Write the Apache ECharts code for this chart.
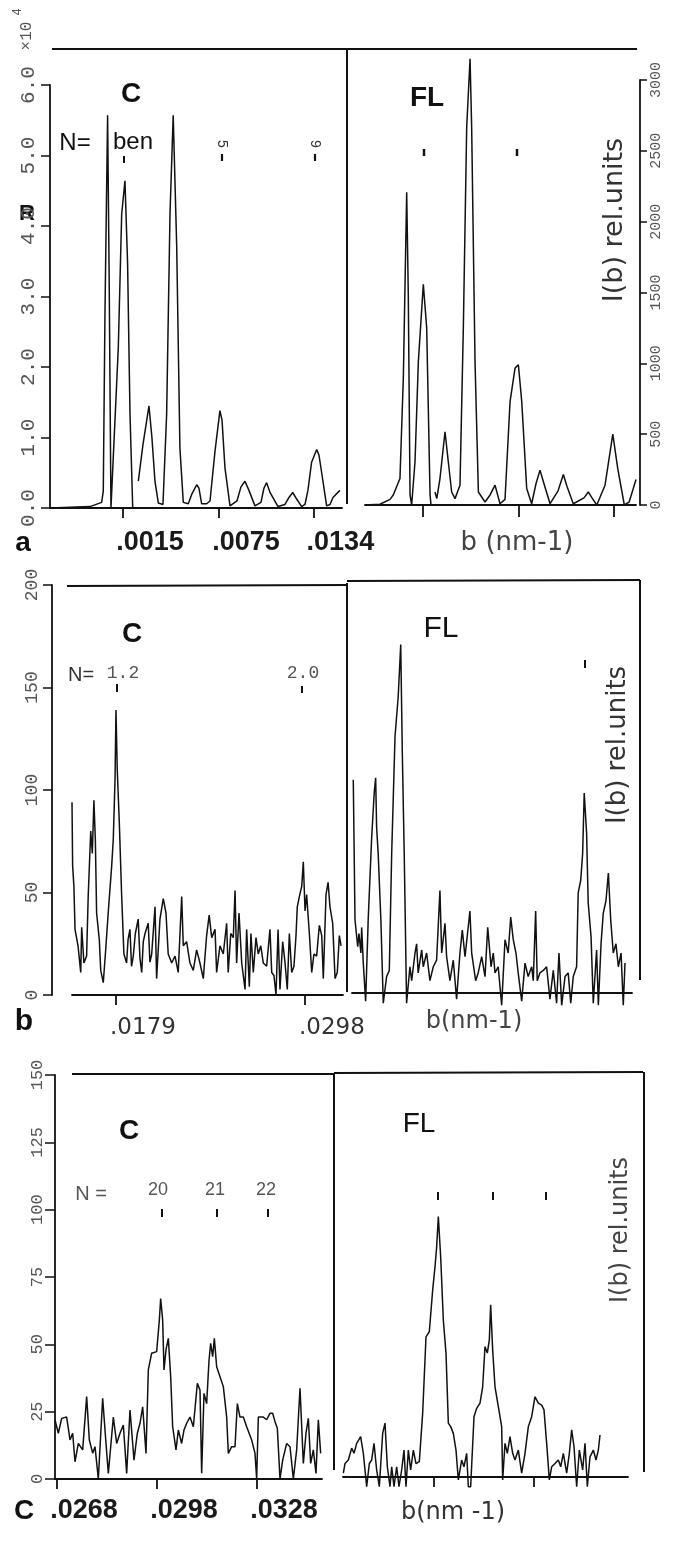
<!DOCTYPE html>
<html><head><meta charset="utf-8">
<script src="https://cdn.jsdelivr.net/npm/echarts@6/dist/echarts.min.js"></script>
<style>html,body{margin:0;padding:0;background:#fff}#c{width:673px;height:1560px}</style>
</head><body><div id="c"></div><script>
// b in units of 1e-4 nm^-1 ; I(b) in panel units
const aTicks = [15, 75, 134];
const aTickLabels = ['.0015', '.0075', '.0134'];
const bTicks = [179, 298];
const bTickLabels = ['.0179', '.0298'];
const cTicks = [268, 298, 328];
const cTickLabels = ['.0268', '.0298', '.0328'];

// Panel a, C (x10^4)
const aC = [[-30.6,0],[-5.6,0.02],[1.7,0.08],[2.7,0.24],[3.75,2.75],[5.4,5.57],[6.4,3.2],[7.5,0],[8.6,0],[12.1,2.28],[14.2,4.17],[16.25,4.64],[17.9,3.46],[19.4,1.33],[21.1,0],[22.9,null],[24.6,0.38],[27.5,0.9],[31.25,1.45],[33.1,1.0],[35,0.38],[37.1,0.07],[40,0.05],[42.3,1.33],[44.4,4.17],[46.4,5.57],[48.6,3.7],[50.6,0.85],[52.7,0.08],[55.8,0.06],[58.1,0.2],[61.1,0.33],[62.5,0.28],[64.2,0.06],[67.3,0.06],[69.4,0.1],[72.5,0.8],[75.6,1.38],[76.9,1.25],[78.75,0.57],[81.9,0.03],[86.25,0.1],[88.75,0.3],[91.25,0.38],[93.75,0.25],[97.5,0.03],[101.25,0.08],[103.1,0.28],[104.8,0.36],[106.9,0.22],[111.9,0.02],[116.25,0.05],[118.75,0.15],[121.1,0.22],[123.75,0.12],[126.7,0.02],[128.75,0.05],[130.6,0.25],[132.9,0.65],[136.1,0.83],[137.5,0.75],[139.2,0.5],[142.3,0.03],[144.4,0.05],[146.25,0.15],[150.6,0.25]];
// Panel a, FL
const aFL = [[-21.25,0],[-11.9,5],[-5.6,40],[-3.6,71],[0.6,187],[2.7,895],[4.8,2207],[5.8,1489],[6.9,71],[7.9,0],[10,305],[12.1,1014],[15.2,1558],[17.3,1250],[19.4,71],[20,0],[21,null],[22.5,92],[23.6,45],[25.6,187],[28.75,517],[30.8,305],[32.9,92],[35,45],[38.1,140],[40.2,1250],[42.3,2668],[44.4,3150],[45.4,2668],[47.5,1014],[49.6,92],[53.75,21],[56.9,71],[60,140],[63.1,9],[66.25,40],[69.4,730],[72.5,966],[74.6,990],[76.7,730],[79.8,116],[82.9,9],[85.6,150],[88.1,246],[90.6,150],[94.4,9],[99.4,100],[102.7,215],[105,130],[108.9,9],[115.6,50],[118.3,92],[120.6,50],[123.6,0],[128.75,140],[133.6,501],[136.7,257],[140.8,0],[143.75,20],[146.4,116],[148.1,180]];
// Panel b, C
const bC = [[151.3,94],[151.7,63],[152.5,53],[153.2,32],[155.1,24],[156.8,11],[157.4,33],[158.8,15.6],[160.5,19],[161.5,48],[163.1,80],[164.1,69],[165.1,95],[166,76],[166.8,40],[168.5,27],[169.4,12],[171,6],[172.7,24],[174.1,40],[176.3,63],[177.3,76],[178.4,105],[179,139],[179.8,110],[181.1,84],[182.6,48],[184,20],[185.7,15.6],[186.6,27],[187.8,32],[188.8,14],[189.9,19],[191.2,30],[193,37],[194.1,18],[195.2,11],[196.2,26],[197.3,30],[199.3,35],[200.4,16],[201.5,20],[203.6,43],[204.6,8],[206.7,37],[208.8,47],[210.5,40],[211.9,20],[214.1,15.6],[216.2,19],[218.2,11],[220.4,48],[221.4,24],[223.5,26],[225.6,15.6],[227.7,12],[229.8,22],[231.9,15.6],[234,8],[236.1,29],[237.7,39],[239.3,28],[241.4,32],[242.4,11],[244.5,24],[246.6,20],[248.7,35],[249.7,11],[251.3,30],[252.9,28],[254,51],[255,15.6],[256.5,40],[258.2,15.6],[260.3,2.7],[261.3,32],[263,4],[264,30],[265.5,11],[267.2,28],[268.6,20],[270.2,24],[271.8,15.6],[273.9,14],[276,32],[277.1,11],[278.5,9.5],[279.8,0],[281.1,32],[282.3,2.7],[284,26],[285.5,15.6],[286.9,2.7],[288.2,30],[289.7,11],[291.1,14],[292.4,29],[293.2,43],[294.5,48],[296,53],[297,65],[298.1,41],[299.1,49],[300.8,30],[302.3,11],[303.7,20],[305.4,19],[307.1,34],[308.6,29],[309.6,8],[311.3,49],[312.6,55],[313.8,43],[315.5,35],[317,8],[318.4,11],[319.7,29],[320.8,24]];
// Panel b, FL
const bFL = [[152.1,104],[153.2,35.6],[154.9,22.6],[155.7,29],[156.9,19.5],[157.4,32],[158.4,14.6],[159.9,-4],[161.5,35.6],[163.7,76],[165.3,97.6],[166.2,105],[166.8,81],[167.8,68],[169.5,35.6],[171,-5],[173.1,8],[174.8,11],[176.3,68],[178.4,125],[180.4,144.5],[182,170],[183,117],[184.2,68],[185.7,-5],[187.8,12.8],[188.9,6],[191,19.5],[192,24],[193,9.8],[195.2,21],[196.2,12.8],[198.3,19.5],[200.4,6],[202.5,12.8],[204.6,16],[206.7,50],[207.8,19.5],[209.9,34],[210.9,17.7],[213,6],[215.1,16],[217.2,-3],[219.3,19.5],[220.8,30.7],[222.5,17.7],[225.6,40],[226.7,19.5],[229.2,6],[230.8,9.8],[233,17.7],[235.1,8],[236.8,32],[238.9,12.8],[240.3,19.5],[241.4,9.8],[243.4,12.8],[245.6,-6],[247.7,26],[249.7,19.5],[251.3,37],[252.9,26],[254.6,19.5],[256,9.8],[258.2,-4],[260.3,14.6],[262.3,8],[264.5,12.8],[265.5,6],[267,40],[268,6],[269.7,9.8],[271.8,11],[273.9,12.8],[276,-3],[278.1,11],[280.2,-5],[281.7,19.5],[283.4,-6],[285.5,8],[287.5,9.8],[289.1,-5],[290.7,8],[292.8,12.8],[293.8,48.8],[295.4,55],[296.6,68],[297.6,97.6],[299.1,78],[300.1,44],[301.9,27.5],[303.3,-5],[305.4,21],[306.5,-6],[308.2,24],[309.6,39],[311.3,45],[312.8,58.5],[314.3,35.6],[315.9,19.5],[317.6,24],[319.1,12.8],[320.8,19.5],[322.2,-6],[323.3,14.6]];
// Panel c, C
const cC = [[267.4,21.9],[268.4,17],[269.4,22.5],[270.9,23],[271.9,14.5],[272.7,17],[273.4,6.4],[274.4,13.2],[275.7,10.8],[276.9,30.6],[277.7,14.5],[278.7,9.6],[279.4,12],[280.4,0],[281.7,30],[282.7,13.2],[283.4,2.1],[284.9,23],[285.9,13.2],[286.9,17],[287.9,20],[288.9,2.1],[289.9,25.6],[291.1,7],[292.1,17],[292.9,20.7],[293.7,26.8],[294.7,9.5],[295.4,40.5],[296.4,46.7],[297.9,47.3],[298.7,59],[299.1,67],[299.7,59],[300.1,40.5],[300.7,48],[301.4,52.2],[302.1,38],[302.7,19.4],[303.7,10.8],[304.4,18.2],[305.4,13.2],[306.1,18.2],[306.9,20.7],[307.9,23],[308.9,19.4],[310.1,35.5],[310.9,33],[311.4,2.1],[312.1,31.8],[312.9,28],[313.6,44],[314.1,50.4],[314.7,45.4],[315.2,52.2],[315.9,41.7],[316.9,38],[317.9,34.3],[318.9,23],[319.4,9.5],[320.4,12],[321.4,12],[322.1,28],[322.9,23],[323.9,23],[324.9,19.4],[326.4,14.5],[327.4,9.5],[327.9,0],[328.4,23],[329.9,23],[330.9,22],[331.9,24.4],[332.7,24.4],[333.4,21.3],[334.1,18.8],[334.9,0],[335.7,7],[336.9,13.2],[337.9,12],[338.9,0],[339.9,10.8],[340.9,33.7],[341.9,5.8],[342.7,17],[343.4,22.5],[344.1,5.8],[344.9,10.8],[345.7,2.1],[346.4,22],[347.1,9.5]];
// Panel c, FL
const cFL = [[270.8,1.4],[271.3,5],[272.3,6.3],[273.3,10.7],[274,8.8],[274.8,12.5],[276,15],[276.8,8.8],[277.8,-3.6],[278.6,5],[279.3,6.3],[280,12.5],[280.8,2.6],[281.6,-3.6],[282.6,16.2],[283.3,20],[284,3.8],[284.8,-3.6],[285.3,3.8],[286,-3.6],[286.8,3.8],[287.5,-3.6],[288.3,2.6],[289,10],[289.6,-3.6],[290.3,10],[291,2.6],[291.8,10],[292.6,5],[293.6,5.7],[294.6,23.7],[295.6,52],[296.6,54],[297.6,69.4],[298.3,78],[298.8,85.5],[299.3,96.7],[300,81.8],[300.8,58.3],[301.6,46],[302.3,20],[303,18.7],[303.8,16.2],[304.6,10],[305.3,-1.1],[306.3,6.3],[307,3.8],[307.8,8.8],[308.3,-3.6],[309,-3.6],[310,22.4],[310.8,25.5],[311.8,27.4],[312.6,33.5],[313.3,48.4],[314,46],[314.6,50.9],[315,63.9],[315.6,47.2],[316.3,33.5],[317.3,26.1],[318.3,18.7],[318.6,-1.1],[319.3,12.5],[320,8.8],[320.8,15],[321.6,8.8],[322.3,6.3],[323.3,10],[324.3,1.4],[325.3,8.8],[326.3,18.7],[327.3,22.4],[328.3,29.8],[329.3,27.4],[330.3,26.7],[331,24.9],[331.8,12.5],[332.6,-1.1],[333.3,3.8],[334.3,5],[335.3,6.3],[336,3.8],[336.8,8.8],[337.8,1.4],[338.6,8.8],[339.3,17.5],[340,11.3],[340.8,-3.6],[341.6,10],[342.6,2.6],[343.3,12.5],[344,-3.6],[344.8,7.5],[345.8,10],[346.6,6.3],[347.3,10],[347.8,15.6]];

const INK = '#111';
const grids = [
  {left: 50, top: 85, width: 292, height: 423, xmin: -30.6, xmax: 151.9},
  {left: 365, top: 80, width: 271, height: 425, xmin: -21.25, xmax: 148.1},
  {left: 72, top: 585, width: 271, height: 410, xmin: 151.3, xmax: 322},
  {left: 352, top: 583, width: 280, height: 410, xmin: 151.3, xmax: 327.7},
  {left: 55, top: 1075, width: 267, height: 404, xmin: 267.4, xmax: 347.5},
  {left: 343, top: 1073, width: 285, height: 404, xmin: 270.7, xmax: 356.2}
];

function xLabels(gi, ticks, texts, shiftPx, font) {
  if (!ticks) return {show: false};
  const g = grids[gi];
  const upp = (g.xmax - g.xmin) / g.width;
  const pos = ticks.map(t => t + shiftPx * upp);
  return Object.assign({
    show: true,
    customValues: pos,
    formatter: function (v) {
      let k = 0, d = Infinity;
      pos.forEach((p, i) => { const e = Math.abs(p - v); if (e < d) { d = e; k = i; } });
      return texts[k];
    },
    color: '#1a1a1a'
  }, font);
}

function xAxis(gi, ticks, labelTicks, texts, shiftPx, font, tickLen) {
  const g = grids[gi];
  return {
    gridIndex: gi, type: 'value', min: g.xmin, max: g.xmax,
    axisLine: {show: true, onZero: false, lineStyle: {color: INK, width: 1.8}},
    axisTick: ticks ? {show: true, customValues: ticks, length: tickLen || 10, lineStyle: {color: INK, width: 1.8}} : {show: false},
    axisLabel: xLabels(gi, labelTicks, texts, shiftPx, font),
    splitLine: {show: false}
  };
}

const monoLbl = (size, margin) => ({rotate: 90, fontFamily: 'Liberation Mono', fontSize: size, color: '#555', margin: margin});
const yLine = {show: true, onZero: false, lineStyle: {color: INK, width: 1.8}};

const yAxes = [
  {gridIndex: 0, type: 'value', min: 0, max: 6, interval: 1,
   axisLine: yLine,
   axisTick: {show: true, length: 9, lineStyle: {color: INK, width: 1.5}},
   axisLabel: Object.assign(monoLbl(21, 11), {formatter: v => v.toFixed(1)}),
   splitLine: {show: false}},
  {gridIndex: 1, type: 'value', min: 0, max: 3000, interval: 500, position: 'right', offset: 4,
   axisLine: yLine,
   axisTick: {show: true, length: 7, lineStyle: {color: INK, width: 1.5}},
   axisLabel: Object.assign(monoLbl(15, 9), {formatter: v => String(v)}),
   splitLine: {show: false}},
  {gridIndex: 2, type: 'value', min: 0, max: 200, interval: 50, offset: 20,
   axisLine: yLine,
   axisTick: {show: true, length: 9, lineStyle: {color: INK, width: 1.5}},
   axisLabel: monoLbl(18, 11),
   splitLine: {show: false}},
  {gridIndex: 3, type: 'value', min: 0, max: 200, show: false},
  {gridIndex: 4, type: 'value', min: 0, max: 150, interval: 25,
   axisLine: yLine,
   axisTick: {show: true, length: 10, lineStyle: {color: INK, width: 1.5}},
   axisLabel: monoLbl(17, 9),
   splitLine: {show: false}},
  {gridIndex: 5, type: 'value', min: 0, max: 150, show: false}
];

const boldLbl = {fontFamily: 'Liberation Sans', fontWeight: 'bold', fontSize: 27, lineHeight: 27};
const thinLbl = {fontFamily: 'DejaVu Sans', fontSize: 23, lineHeight: 23, color: '#333'};
const xAxes = [
  xAxis(0, aTicks, aTicks, aTickLabels, 27, Object.assign({margin: 21}, boldLbl), 10),
  xAxis(1, aTicks, null, null, 0, null, 12),
  xAxis(2, bTicks, bTicks, bTickLabels, 27, Object.assign({margin: 22}, thinLbl), 10),
  xAxis(3, null, null, null, 0, null),
  xAxis(4, cTicks, cTicks, cTickLabels, 27, Object.assign({margin: 18}, boldLbl), 10),
  xAxis(5, [298, 328], null, null, 0, null, 10)
];

function series(gi, pts) {
  return {
    type: 'line', xAxisIndex: gi, yAxisIndex: gi,
    data: pts.map(p => p[1] === null ? [p[0], '-'] : p),
    showSymbol: false, symbol: 'none', connectNulls: false, clip: false,
    lineStyle: {color: INK, width: 1.5}, animation: false, silent: true
  };
}

function L(x1, y1, x2, y2, w) {
  return {type: 'line', shape: {x1, y1, x2, y2}, style: {stroke: INK, lineWidth: w || 2}, silent: true};
}
function T(text, x, y, font, opts) {
  opts = opts || {};
  return {type: 'text', x, y, rotation: opts.rot || 0, silent: true,
    style: {text, x: 0, y: 0, font, fill: opts.fill || INK, align: 'center', verticalAlign: 'middle'}};
}
const R90 = Math.PI / 2;
const graphics = [
  // panel a frame
  L(52, 49, 637, 49, 2), L(347, 49, 347, 504, 2),
  T('C', 131, 94, 'bold 28px "Liberation Sans"'),
  T('N=', 75, 143, '24px "Liberation Sans"'),
  T('ben', 133, 142, '24px "Liberation Sans"'),
  L(124, 156, 124, 163, 2),
  T('5', 222, 144, '14px "Liberation Sans"', {rot: -R90, fill: '#333'}), L(222, 154, 222, 161, 2.2),
  T('9', 315, 144, '14px "Liberation Sans"', {rot: -R90, fill: '#333'}), L(315, 154, 315, 161, 2.2),
  T('FL', 427, 98, 'bold 28px "Liberation Sans"'),
  L(424, 149, 424, 156, 2.5), L(517, 149, 517, 156, 2.5),
  T('R', 27, 214, 'bold 22px "Liberation Sans"'),
  T('×10', 27, 36, '16px "Liberation Mono"', {rot: R90, fill: '#555'}),
  T('4', 18, 12, '12px "Liberation Sans"', {rot: R90, fill: '#555'}),
  T('a', 23, 543, 'bold 28px "Liberation Sans"'),
  T('b (nm-1)', 517, 543, '26px "DejaVu Sans"', {fill: '#444'}),
  T('I(b) rel.units', 615, 220, '27px "DejaVu Sans"', {rot: R90, fill: '#333'}),
  // panel b frame
  L(67, 586, 347, 585, 2), L(347, 581, 640, 580, 2), L(347, 583, 347, 992, 2), L(640, 580, 640, 980, 2),
  T('C', 132, 634, 'bold 28px "Liberation Sans"'),
  T('N=', 81, 675, '20px "Liberation Sans"', {fill: '#333'}),
  T('1.2', 123, 673, '18px "Liberation Mono"', {fill: '#555'}), L(117, 684, 117, 692, 2),
  T('2.0', 303, 673, '18px "Liberation Mono"', {fill: '#555'}), L(302, 686, 302, 693, 2),
  T('FL', 441, 629, '30px "Liberation Sans"'),
  L(585, 660, 585, 668, 2),
  T('I(b) rel.units', 618, 745, '26px "DejaVu Sans"', {rot: R90, fill: '#333'}),
  T('b', 24, 1022, 'bold 30px "Liberation Sans"'),
  T('b(nm-1)', 474, 1022, '24px "DejaVu Sans"', {fill: '#444'}),
  // panel c frame
  L(72, 1074, 334, 1074, 2), L(334, 1073, 643, 1072, 2), L(334, 1074, 334, 1470, 2), L(644, 1072, 644, 1472, 2),
  T('C', 129, 1131, 'bold 28px "Liberation Sans"'),
  T('N =', 91, 1194, '20px "Liberation Sans"', {fill: '#555'}),
  T('20', 158, 1190, '18px "Liberation Sans"', {fill: '#555'}),
  T('21', 215, 1190, '18px "Liberation Sans"', {fill: '#555'}),
  T('22', 266, 1190, '18px "Liberation Sans"', {fill: '#555'}),
  L(162, 1209, 162, 1217, 2), L(217, 1209, 217, 1217, 2), L(268, 1209, 268, 1217, 2),
  T('FL', 419, 1124, '28px "Liberation Sans"'),
  L(438, 1192, 438, 1200, 2), L(493, 1192, 493, 1200, 2), L(546, 1192, 546, 1200, 2),
  T('I(b) rel.units', 621, 1230, '24px "DejaVu Sans"', {rot: R90, fill: '#444'}),
  T('C', 24, 1511, 'bold 28px "Liberation Sans"'),
  T('b(nm -1)', 453, 1513, '24px "DejaVu Sans"', {fill: '#333'})
];

const chart = echarts.init(document.getElementById('c'), null, {renderer: 'canvas'});
chart.setOption({
  backgroundColor: '#fff',
  animation: false,
  grid: grids.map(g => ({left: g.left, top: g.top, width: g.width, height: g.height, containLabel: false})),
  xAxis: xAxes,
  yAxis: yAxes,
  series: [series(0, aC), series(1, aFL), series(2, bC), series(3, bFL), series(4, cC), series(5, cFL)],
  graphic: graphics
});
</script></body></html>
